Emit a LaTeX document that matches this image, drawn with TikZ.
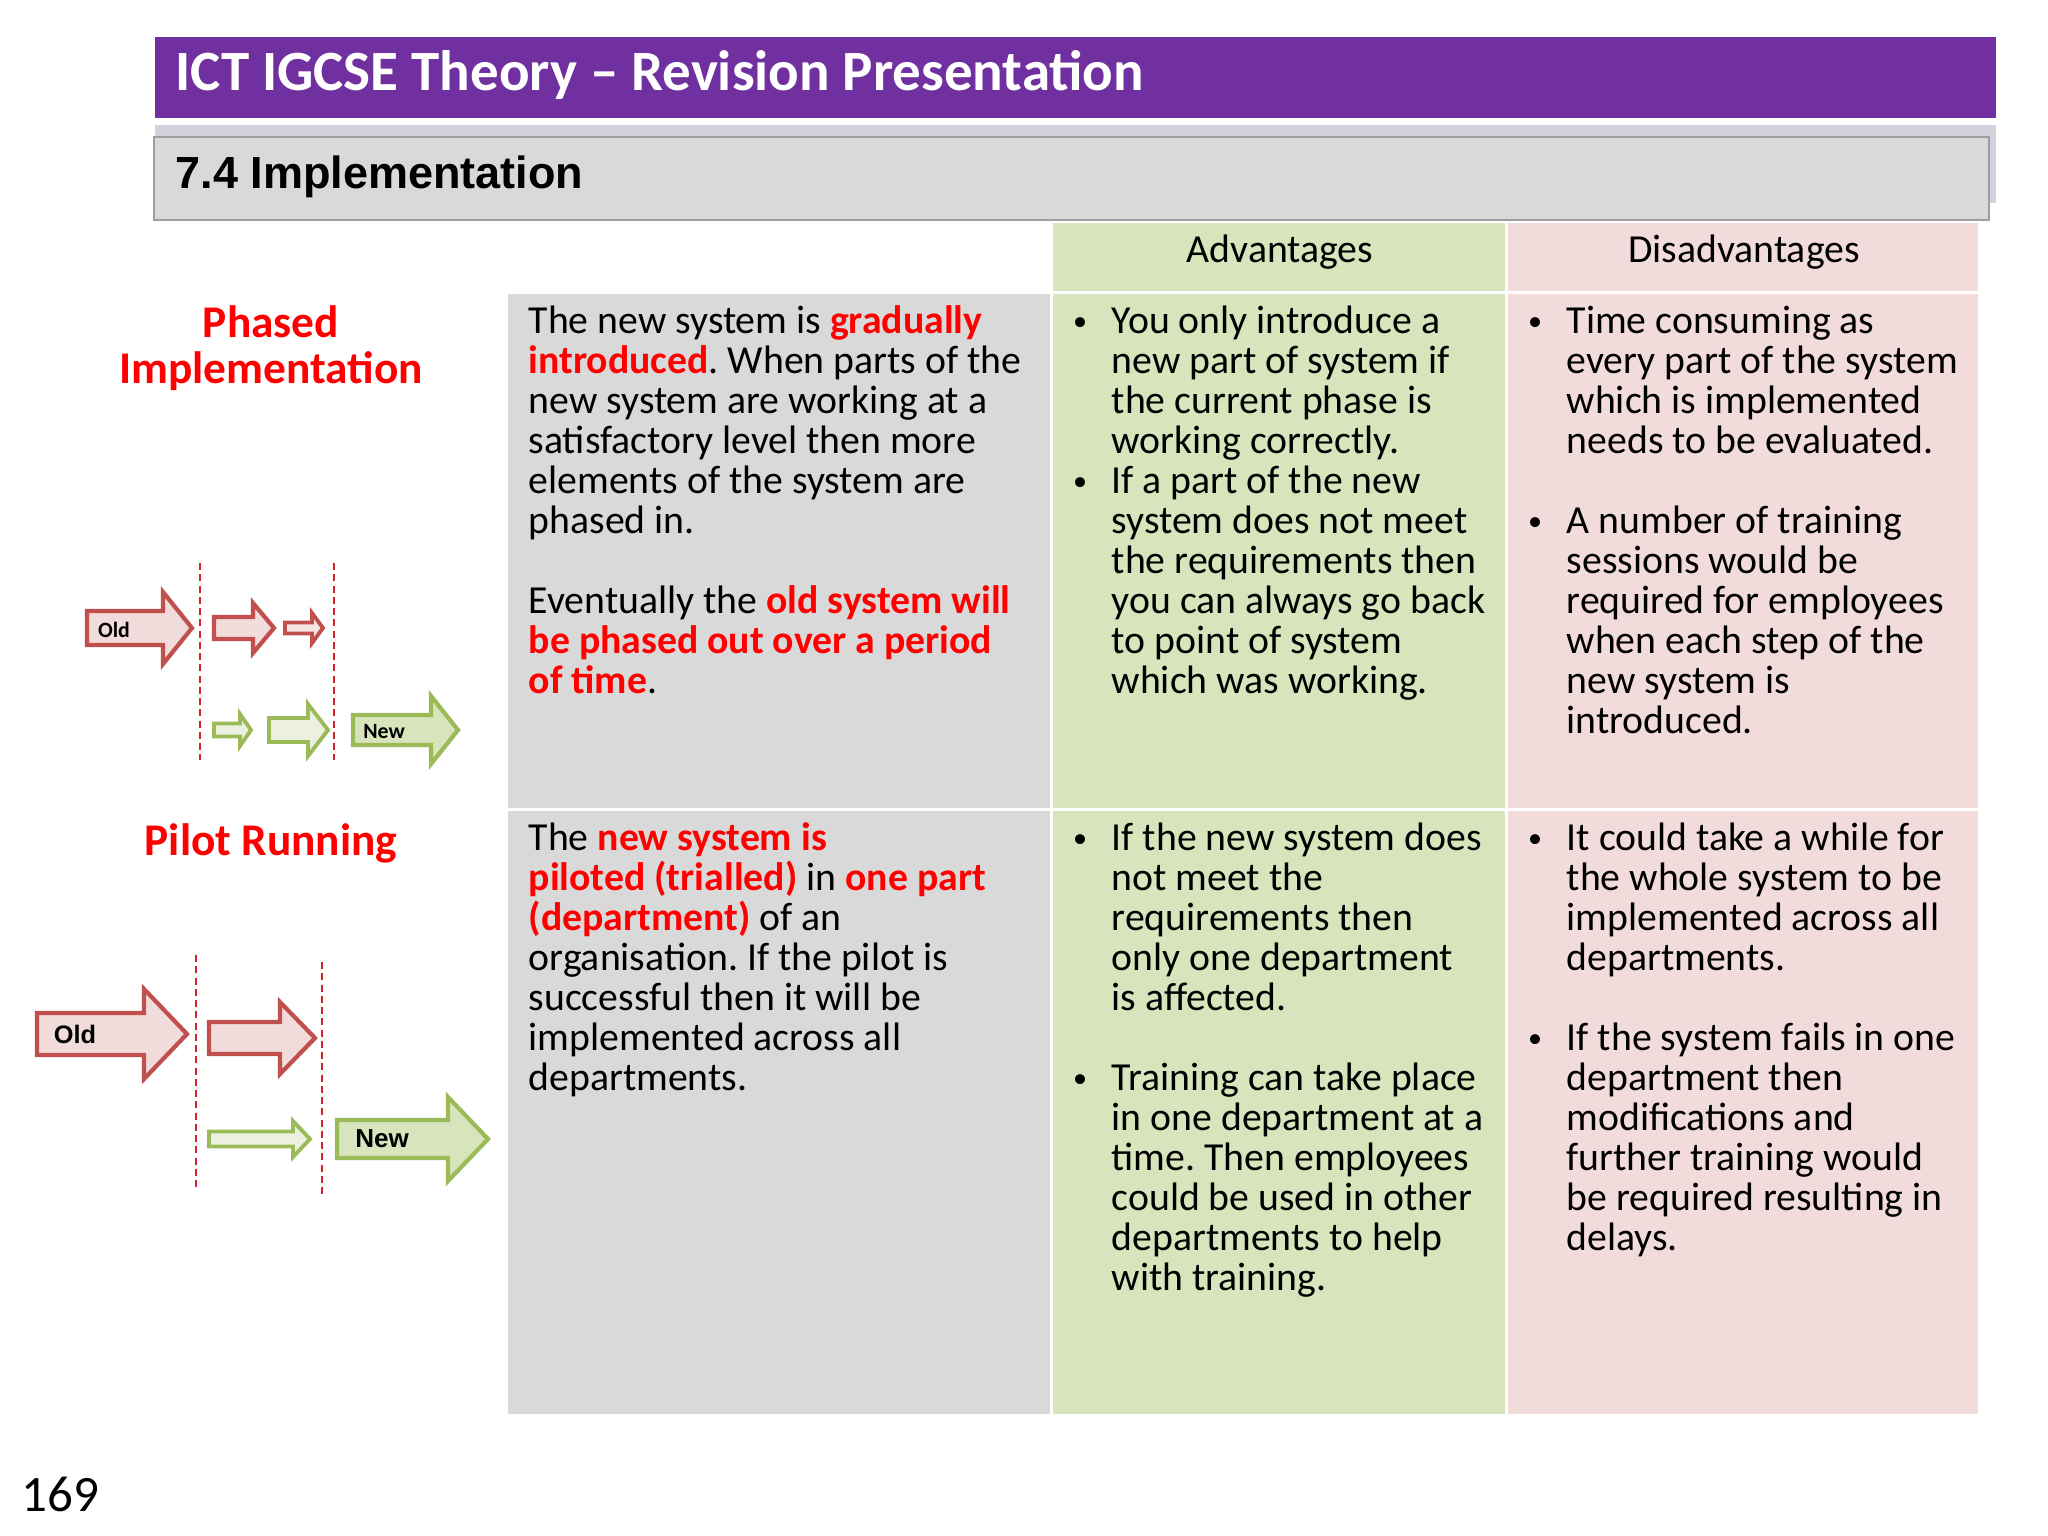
\documentclass[tikz,border=0pt]{standalone}
\usepackage{fontspec}
\setmainfont{Carlito}
\newfontfamily\arialfont{Liberation Sans}
\definecolor{headpurple}{HTML}{7030A0}
\definecolor{bandgrey}{HTML}{D2D2DC}
\definecolor{cellgrey}{HTML}{D9D9D9}
\definecolor{cellgreen}{HTML}{D8E4BC}
\definecolor{cellpink}{HTML}{F2DCDB}
\definecolor{oldline}{HTML}{C0504D}
\definecolor{oldfill}{HTML}{F2DCDB}
\definecolor{oldpale}{HTML}{F6E4E3}
\definecolor{newline}{HTML}{9BBB59}
\definecolor{newfill}{HTML}{D7E4BC}
\definecolor{newpale}{HTML}{EBF1DE}
\definecolor{cutred}{HTML}{D2222A}
\newcommand{\redbit}[1]{\textcolor{red}{\textbf{#1}}}
\newcommand{\blt}{\leavevmode\llap{\makebox[11pt][l]{\raisebox{0.7pt}{\fontsize{8pt}{8pt}\selectfont\textbullet}}}}
\frenchspacing
\tikzset{
  celltext/.style={anchor=north west,align=left,inner sep=0pt,
    font=\fontsize{11.3pt}{11.38pt}\selectfont\frenchspacing},
  headtext/.style={inner sep=0pt,font=\fontsize{11.3pt}{11.38pt}\selectfont},
  methodtext/.style={inner sep=0pt,align=center,text=red,
    font=\fontsize{12.9pt}{13pt}\selectfont\bfseries},
  oldbig/.style={draw=oldline,fill=oldfill,line width=1.2pt,miter limit=10},
  oldsmall/.style={draw=oldline,fill=oldpale,line width=1.1pt,miter limit=10},
  newbig/.style={draw=newline,fill=newfill,line width=1.2pt,miter limit=10},
  newsmall/.style={draw=newline,fill=newpale,line width=1.1pt,miter limit=10},
  cutline/.style={cutred,line width=0.7pt,dash pattern=on 2pt off 1.2pt}
}
\begin{document}
\begin{tikzpicture}[x=0.01cm,y=-0.01cm]
  \useasboundingbox (0,0) rectangle (2048,1536);
  \fill[headpurple] (155,37) rectangle (1996,118);
  \fill[bandgrey] (155,125) rectangle (1996,203);
  \draw[fill=cellgrey,draw=black!38,line width=0.7pt] (154,137) rectangle (1989,220);
  \node[anchor=base west,inner sep=0pt,text=white,
    font=\fontsize{16.2pt}{17pt}\selectfont\bfseries] (title) at (175,90)
    {ICT IGCSE Theory – Revision Presentation};
  \node[anchor=base west,inner sep=0pt,
    font=\fontsize{12.8pt}{13pt}\selectfont\arialfont\bfseries] (topic) at (175,188)
    {7.4 Implementation};

  \fill[cellgreen] (1053,223) rectangle (1505,291);
  \fill[cellpink] (1508,223) rectangle (1978,291);
  \fill[cellgrey] (508,294) rectangle (1050,808);
  \fill[cellgreen] (1053,294) rectangle (1505,808);
  \fill[cellpink] (1508,294) rectangle (1978,808);
  \fill[cellgrey] (508,811) rectangle (1050,1414);
  \fill[cellgreen] (1053,811) rectangle (1505,1414);
  \fill[cellpink] (1508,811) rectangle (1978,1414);

  \node[headtext,anchor=base] (advhead) at (1280,262) {Advantages};
  \node[headtext,anchor=base] (dishead) at (1744,262) {Disadvantages};

  \node[methodtext] (phased) at (271,348) {Phased\\Implementation};
  \node[methodtext] (pilot) at (271,843) {Pilot Running};

  \node[celltext] (phasedtext) at (528,305) {The new system is \redbit{gradually}\\
    \redbit{introduced}. When parts of the\\new system are working at a\\
    satisfactory level then more\\elements of the system are\\phased in.\\
    \mbox{}\\Eventually the \redbit{old system will}\\\redbit{be phased out over a period}\\
    \redbit{of time}.};
  \node[celltext] (phasedadv) at (1111,305) {\blt You only introduce a\\new part of system if\\
    the current phase is\\working correctly.\\\blt If a part of the new\\
    system does not meet\\the requirements then\\you can always go back\\
    to point of system\\which was working.};
  \node[celltext] (phaseddis) at (1566,305) {\blt Time consuming as\\every part of the system\\
    which is implemented\\needs to be evaluated.\\\mbox{}\\\blt A number of training\\
    sessions would be\\required for employees\\when each step of the\\
    new system is\\introduced.};
  \node[celltext] (pilottext) at (528,822) {The \redbit{new system is}\\
    \redbit{piloted (trialled)} in \redbit{one part}\\\redbit{(department)} of an\\
    organisation. If the pilot is\\successful then it will be\\
    implemented across all\\departments.};
  \node[celltext] (pilotadv) at (1111,822) {\blt If the new system does\\not meet the\\
    requirements then\\only one department\\is affected.\\\mbox{}\\
    \blt Training can take place\\in one department at a\\time. Then employees\\
    could be used in other\\departments to help\\with training.};
  \node[celltext] (pilotdis) at (1566,822) {\blt It could take a while for\\
    the whole system to be\\implemented across all\\departments.\\\mbox{}\\
    \blt If the system fails in one\\department then\\modifications and\\
    further training would\\be required resulting in\\delays.};

  \foreach \xleft/\xneck/\xtip/\ymid/\shaft/\head/\look in {
      87/163/192/628/17/36/oldbig,
      214/253/274/628/11/25/oldbig,
      285/312/323/628/5.5/15/oldsmall,
      214/240/251/730/6.5/16/newsmall,
      269/308/328/730/12/26/newsmall,
      353/431/458/730/15/34/newbig,
      37/144/187/1034/21/45/oldbig,
      209/280/315/1038/16/36/oldbig,
      209/293/310/1139/7.5/18/newsmall,
      337/448/488/1139/19/42/newbig}
    \draw[\look] (\xleft,\ymid-\shaft) -- (\xneck,\ymid-\shaft) -- (\xneck,\ymid-\head)
      -- (\xtip,\ymid) -- (\xneck,\ymid+\head) -- (\xneck,\ymid+\shaft)
      -- (\xleft,\ymid+\shaft) -- cycle;

  \draw[cutline] (200,563) -- (200,760);
  \draw[cutline] (334,563) -- (334,760);
  \draw[cutline] (196,955) -- (196,1188);
  \draw[cutline] (322,962) -- (322,1195);

  \node[inner sep=0pt,font=\fontsize{6.2pt}{7pt}\selectfont\bfseries] (oldone) at (114,630) {Old};
  \node[inner sep=0pt,font=\fontsize{6.2pt}{7pt}\selectfont\bfseries] (newone) at (384,731) {New};
  \node[inner sep=0pt,font=\fontsize{7.2pt}{8pt}\selectfont\arialfont\bfseries] (oldtwo) at (75,1034) {Old};
  \node[inner sep=0pt,font=\fontsize{7.4pt}{8pt}\selectfont\arialfont\bfseries] (newtwo) at (382,1139) {New};

  \node[anchor=base west,inner sep=0pt,font=\fontsize{14.5pt}{15pt}\selectfont] (pageno) at (21,1511) {169};
\end{tikzpicture}
\end{document}
